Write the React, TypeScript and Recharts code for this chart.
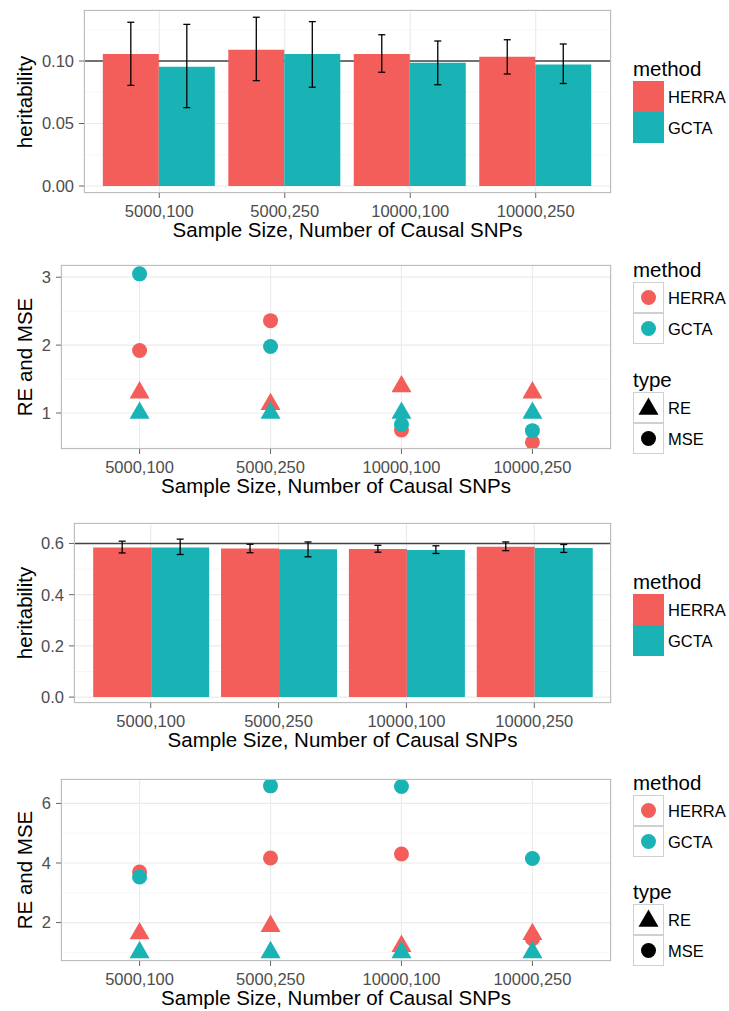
import React from 'react';
import {
  ComposedChart,
  Bar,
  Line,
  XAxis,
  YAxis,
  CartesianGrid,
  ErrorBar
} from 'recharts';

const categories = ['5000,100', '5000,250', '10000,100', '10000,250'];

// panel 1: heritability, true h2 = 0.1
const herraH1 = [0.1056, 0.1090, 0.1056, 0.1035];
const gctaH1 = [0.0955, 0.1056, 0.0987, 0.0973];
const herraLo1 = [0.0805, 0.0843, 0.0910, 0.0896];
const herraHi1 = [0.1310, 0.1350, 0.1210, 0.1170];
const gctaLo1 = [0.0627, 0.0790, 0.0810, 0.0820];
const gctaHi1 = [0.1293, 0.1315, 0.1160, 0.1136];

// panel 2: RE and MSE for h2 = 0.1
const herraRE2 = [1.30, 1.13, 1.39, 1.30];
const gctaRE2 = [1, 1, 1, 1];
const herraMSE2 = [1.92, 2.36, 0.75, 0.57];
const gctaMSE2 = [3.05, 1.98, 0.83, 0.74];

// panel 3: heritability, true h2 = 0.6
const herraH3 = [0.584, 0.580, 0.578, 0.587];
const gctaH3 = [0.584, 0.577, 0.575, 0.582];
const herraLo3 = [0.563, 0.564, 0.566, 0.572];
const herraHi3 = [0.609, 0.597, 0.593, 0.606];
const gctaLo3 = [0.557, 0.548, 0.561, 0.565];
const gctaHi3 = [0.617, 0.606, 0.591, 0.596];

// panel 4: RE and MSE for h2 = 0.6
const herraRE4 = [1.63, 1.88, 1.21, 1.61];
const gctaRE4 = [1, 1, 1, 1];
const herraMSE4 = [3.70, 4.17, 4.30, 1.46];
const gctaMSE4 = [3.53, 6.59, 6.57, 4.15];

const RED = '#F35E5A';
const TEAL = '#19B3B6';
const FONT = '"Liberation Sans", Arial, Helvetica, sans-serif';
const TICK_COLOR = '#4D4D4D';
const PLOT_RIGHT = 611;
const CHART_W = 729;
const X_TITLE = 'Sample Size, Number of Causal SNPs';

const buildBarData = (
  herra: number[], gcta: number[],
  hLo: number[], hHi: number[], gLo: number[], gHi: number[]
) =>
  categories.map((cat, i) => ({
    cat,
    herra: herra[i],
    gcta: gcta[i],
    herraErr: [herra[i] - hLo[i], hHi[i] - herra[i]],
    gctaErr: [gcta[i] - gLo[i], gHi[i] - gcta[i]]
  }));

const buildPointData = (hRE: number[], gRE: number[], hMSE: number[], gMSE: number[]) =>
  categories.map((cat, i) => ({
    cat,
    herraRE: hRE[i],
    gctaRE: gRE[i],
    herraMSE: hMSE[i],
    gctaMSE: gMSE[i]
  }));

const Circle = ({ cx, cy, fill }: { cx?: number; cy?: number; fill: string }) =>
  cx == null || cy == null ? null : <circle cx={cx} cy={cy} r={7.5} fill={fill} />;

const Triangle = ({ cx, cy, fill }: { cx?: number; cy?: number; fill: string }) => {
  if (cx == null || cy == null) return null;
  const s = 20;
  const h = (s * Math.sqrt(3)) / 2;
  const pts = `${cx},${cy - (2 * h) / 3} ${cx + s / 2},${cy + h / 3} ${cx - s / 2},${cy + h / 3}`;
  return <polygon points={pts} fill={fill} />;
};

const textBase: React.CSSProperties = {
  position: 'absolute',
  fontFamily: FONT,
  lineHeight: 1,
  whiteSpace: 'nowrap'
};

interface FrameProps {
  top: number;
  bottom: number;
  left: number;
  yTitle: string;
}

const Frame = ({ top, bottom, left, yTitle }: FrameProps) => (
  <>
    <div
      style={{
        position: 'absolute',
        left,
        top,
        width: PLOT_RIGHT - left,
        height: bottom - top,
        border: '1.5px solid #BDBDBD',
        boxSizing: 'border-box',
        pointerEvents: 'none'
      }}
    />
    <div
      style={{
        ...textBase,
        left: 25,
        top: (top + bottom) / 2,
        fontSize: 20.5,
        color: '#000',
        transform: 'translate(-50%, -50%) rotate(-90deg)'
      }}
    >
      {yTitle}
    </div>
    <div
      style={{
        ...textBase,
        left: (left + PLOT_RIGHT) / 2,
        top: bottom + 37,
        fontSize: 20.5,
        color: '#000',
        transform: 'translate(-50%, -50%)'
      }}
    >
      {X_TITLE}
    </div>
  </>
);

const KeyBox = ({ top, children, bg }: { top: number; children?: React.ReactNode; bg?: string }) => (
  <div
    style={{
      position: 'absolute',
      left: 633,
      top,
      width: 31,
      height: 31,
      boxSizing: 'border-box',
      background: bg ?? '#fff',
      border: bg ? 'none' : '1px solid #D0D0D0'
    }}
  >
    {children}
  </div>
);

const Label = ({ top, text, size = 16.5, left = 668 }: { top: number; text: string; size?: number; left?: number }) => (
  <div style={{ ...textBase, left, top, fontSize: size, color: '#000', transform: 'translateY(-50%)' }}>
    {text}
  </div>
);

const BarLegend = ({ top }: { top: number }) => (
  <>
    <Label top={top} text="method" size={20.5} left={633} />
    <KeyBox top={top + 12} bg={RED} />
    <KeyBox top={top + 43} bg={TEAL} />
    <Label top={top + 27.5} text="HERRA" />
    <Label top={top + 58.5} text="GCTA" />
  </>
);

const KeySvg = ({ children }: { children: React.ReactNode }) => (
  <svg width={29} height={29} style={{ position: 'absolute', left: 0, top: 0 }}>
    {children}
  </svg>
);

const PointLegend = ({ top, typeTop }: { top: number; typeTop: number }) => (
  <>
    <Label top={top} text="method" size={20.5} left={633} />
    <KeyBox top={top + 12}>
      <KeySvg><Circle cx={14.5} cy={14.5} fill={RED} /></KeySvg>
    </KeyBox>
    <KeyBox top={top + 43}>
      <KeySvg><Circle cx={14.5} cy={14.5} fill={TEAL} /></KeySvg>
    </KeyBox>
    <Label top={top + 27.5} text="HERRA" />
    <Label top={top + 58.5} text="GCTA" />
    <Label top={typeTop} text="type" size={20.5} left={633} />
    <KeyBox top={typeTop + 12}>
      <KeySvg><Triangle cx={14.5} cy={16} fill="#000" /></KeySvg>
    </KeyBox>
    <KeyBox top={typeTop + 43}>
      <KeySvg><Circle cx={14.5} cy={14.5} fill="#000" /></KeySvg>
    </KeyBox>
    <Label top={typeTop + 27.5} text="RE" />
    <Label top={typeTop + 58.5} text="MSE" />
  </>
);

interface PanelProps {
  top: number;
  bottom: number;
  left: number;
  domain: [number, number];
  ticks: number[];
  minor: number[];
  digits: number;
}

const tickStyle = { fill: TICK_COLOR, fontSize: 16.5, fontFamily: FONT };

// grids go first so that bars and points are drawn over them
const Grids = ({ minor, extra }: { minor: number[]; extra?: number }) => [
  <CartesianGrid key="minor" stroke="#F4F4F4" strokeWidth={0.8} vertical={false} horizontalValues={minor} />,
  <CartesianGrid key="major" stroke="#EBEBEB" strokeWidth={1.2} />,
  extra != null ? (
    <CartesianGrid key="truth" stroke="#444" strokeWidth={1.6} vertical={false} horizontalValues={[extra]} />
  ) : null
];

const BarPanel = ({
  top, bottom, left, domain, ticks, minor, digits, truth, data
}: PanelProps & { truth: number; data: ReturnType<typeof buildBarData> }) => {
  const plotW = PLOT_RIGHT - left;
  const pad = plotW / 42;
  return (
    <div style={{ position: 'absolute', left: 0, top: top - 10 }}>
      <ComposedChart
        width={CHART_W}
        height={bottom - top + 40}
        data={data}
        margin={{ top: 10, right: CHART_W - PLOT_RIGHT, bottom: 0, left: 0 }}
        barCategoryGap="5%"
        barGap={0}
      >
        {Grids({ minor, extra: truth })}
        <XAxis
          dataKey="cat"
          interval={0}
          height={30}
          padding={{ left: pad, right: pad }}
          axisLine={false}
          tickLine={{ stroke: '#666' }}
          tickSize={5}
          tickMargin={7}
          tick={tickStyle}
        />
        <YAxis
          type="number"
          width={left}
          domain={domain}
          ticks={ticks}
          allowDataOverflow
          tickFormatter={(v: number) => v.toFixed(digits)}
          axisLine={false}
          tickLine={{ stroke: '#666' }}
          tickSize={5}
          tickMargin={5}
          tick={tickStyle}
        />
        <Bar dataKey="herra" fill={RED} isAnimationActive={false}>
          <ErrorBar dataKey="herraErr" width={3.5} stroke="#000" strokeWidth={1.3} direction="y" />
        </Bar>
        <Bar dataKey="gcta" fill={TEAL} isAnimationActive={false}>
          <ErrorBar dataKey="gctaErr" width={3.5} stroke="#000" strokeWidth={1.3} direction="y" />
        </Bar>
      </ComposedChart>
    </div>
  );
};

const PointPanel = ({
  top, bottom, left, domain, ticks, minor, digits, data
}: PanelProps & { data: ReturnType<typeof buildPointData> }) => {
  const plotW = PLOT_RIGHT - left;
  const pad = plotW / 7;
  const series = [
    { key: 'herraRE', fill: RED, tri: true },
    { key: 'herraMSE', fill: RED, tri: false },
    { key: 'gctaRE', fill: TEAL, tri: true },
    { key: 'gctaMSE', fill: TEAL, tri: false }
  ];
  return (
    <div style={{ position: 'absolute', left: 0, top: top - 10 }}>
      <ComposedChart
        width={CHART_W}
        height={bottom - top + 40}
        data={data}
        margin={{ top: 10, right: CHART_W - PLOT_RIGHT, bottom: 0, left: 0 }}
      >
        {Grids({ minor })}
        <XAxis
          dataKey="cat"
          interval={0}
          height={30}
          padding={{ left: pad, right: pad }}
          axisLine={false}
          tickLine={{ stroke: '#666' }}
          tickSize={5}
          tickMargin={7}
          tick={tickStyle}
        />
        <YAxis
          type="number"
          width={left}
          domain={domain}
          ticks={ticks}
          allowDataOverflow
          tickFormatter={(v: number) => v.toFixed(digits)}
          axisLine={false}
          tickLine={{ stroke: '#666' }}
          tickSize={5}
          tickMargin={5}
          tick={tickStyle}
        />
        {series.map((s) => (
          <Line
            key={s.key}
            dataKey={s.key}
            stroke="none"
            isAnimationActive={false}
            activeDot={false}
            dot={(p: any) =>
              s.tri ? (
                <Triangle key={`${s.key}-${p.index}`} cx={p.cx} cy={p.cy} fill={s.fill} />
              ) : (
                <Circle key={`${s.key}-${p.index}`} cx={p.cx} cy={p.cy} fill={s.fill} />
              )
            }
          />
        ))}
      </ComposedChart>
    </div>
  );
};

const App = () => {
  const bars1 = buildBarData(herraH1, gctaH1, herraLo1, herraHi1, gctaLo1, gctaHi1);
  const bars3 = buildBarData(herraH3, gctaH3, herraLo3, herraHi3, gctaLo3, gctaHi3);
  const pts2 = buildPointData(herraRE2, gctaRE2, herraMSE2, gctaMSE2);
  const pts4 = buildPointData(herraRE4, gctaRE4, herraMSE4, gctaMSE4);

  return (
    <div style={{ position: 'absolute', left: 0, top: 0, width: 729, height: 1011, background: '#fff' }}>
      <BarPanel
        top={10} bottom={193} left={84}
        domain={[-0.0056, 0.1408]} ticks={[0, 0.05, 0.1]} minor={[0.025, 0.075, 0.125]}
        digits={2} truth={0.1} data={bars1}
      />
      <Frame top={10} bottom={193} left={84} yTitle="heritability" />
      <BarLegend top={69} />

      <PointPanel
        top={265} bottom={449} left={61}
        domain={[0.47, 3.18]} ticks={[1, 2, 3]} minor={[0.5, 1.5, 2.5]}
        digits={0} data={pts2}
      />
      <Frame top={265} bottom={449} left={61} yTitle="RE and MSE" />
      <PointLegend top={270} typeTop={380} />

      <BarPanel
        top={523} bottom={703} left={74}
        domain={[-0.023, 0.68]} ticks={[0, 0.2, 0.4, 0.6]} minor={[0.1, 0.3, 0.5]}
        digits={1} truth={0.6} data={bars3}
      />
      <Frame top={523} bottom={703} left={74} yTitle="heritability" />
      <BarLegend top={582} />

      <PointPanel
        top={779} bottom={961} left={61}
        domain={[0.71, 6.82]} ticks={[2, 4, 6]} minor={[1, 3, 5]}
        digits={0} data={pts4}
      />
      <Frame top={779} bottom={961} left={61} yTitle="RE and MSE" />
      <PointLegend top={783} typeTop={892} />
    </div>
  );
};

export default App;
